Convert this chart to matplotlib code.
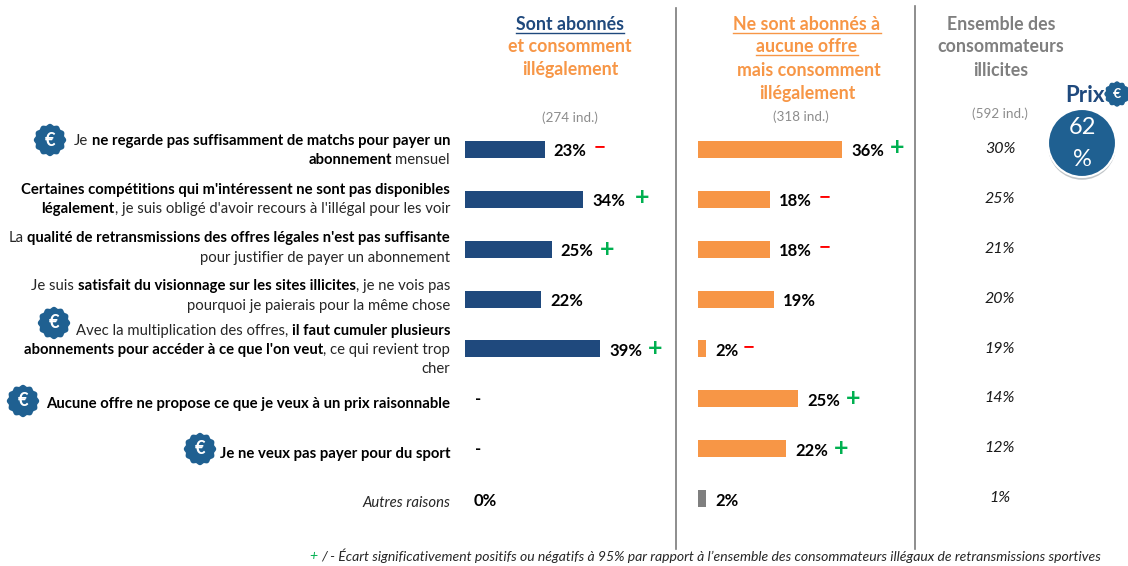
import numpy as np
import matplotlib
matplotlib.use('Agg')
import matplotlib.pyplot as plt
from matplotlib.patches import Circle, Polygon
import matplotlib.patheffects as pe

plt.rcParams['font.family'] = ['Lato', 'DejaVu Sans']

W, H = 1128, 566

# Data
abonnes = [23, 34, 25, 22, 39, None, None, 0]
non_abonnes = [36, 18, 18, 19, 2, 25, 22, 2]
ensemble = [30, 25, 21, 20, 19, 14, 12, 1]
flags_abonnes = ['-', '+', '+', '', '+', '', '', '']
flags_non_abonnes = ['+', '-', '-', '', '-', '+', '+', '']
labels = [
  [[('Je ', 0), ('ne regarde pas suffisamment de matchs pour payer un', 1)],
   [('abonnement', 1), (' mensuel', 0)]],
  [[('Certaines compétitions qui m\'intéressent ne sont pas disponibles', 1)],
   [('légalement', 1), (', je suis obligé d\'avoir recours à l\'illégal pour les voir', 0)]],
  [[('La ', 0), ('qualité de retransmissions des offres légales n\'est pas suffisante', 1)],
   [('pour justifier de payer un abonnement', 0)]],
  [[('Je suis ', 0), ('satisfait du visionnage sur les sites illicites', 1), (', je ne vois pas', 0)],
   [('pourquoi je paierais pour la même chose', 0)]],
  [[('Avec la multiplication des offres, ', 0), ('il faut cumuler plusieurs', 1)],
   [('abonnements pour accéder à ce que l\'on veut', 1), (', ce qui revient trop', 0)],
   [('cher', 0)]],
  [[('Aucune offre ne propose ce que je veux à un prix raisonnable', 1)]],
  [[('Je ne veux pas payer pour du sport', 1)]],
]

BLUE = '#1F497D'
ORANGE = '#F79646'
GREY = '#7F7F7F'
BADGE = '#1F6091'
GREEN = '#00B050'
RED = '#FF0000'
TEXT = '#262626'


def rtext(ax, x, y, segs, size=10.7, bold_size=10.72, style='normal'):
  # mixed bold line, drawn from the right edge to the left
  renderer = ax.figure.canvas.get_renderer()
  for seg in reversed(segs):
    s, bold = seg[0], seg[1]
    color = seg[2] if len(seg) > 2 else (TEXT if not bold else 'black')
    x -= 0 if not s.endswith(' ') else size * 0.32
    t = ax.text(x, y, s.strip(), ha='right', va='center', fontsize=bold_size if bold else size,
                color=color, fontweight='bold' if bold else 'normal', fontstyle=style)
    x -= t.get_window_extent(renderer).width
    x -= 0 if not s.startswith(' ') else size * 0.32


def header(ax, x, y, s, color, underline=False):
  t = ax.text(x, y + 1, s, ha='center', va='center', fontsize=12.8, color=color, fontweight='bold')
  if underline:
    w = t.get_window_extent(ax.figure.canvas.get_renderer()).width
    ax.plot([x - w / 2, x + w / 2], [y + 9, y + 9], color=color, lw=1)


def badge(ax, x, y, r):
  a = np.linspace(0, 2 * np.pi, 145)
  rad = r * (0.95 + 0.05 * np.cos(12 * a))
  ax.add_patch(Polygon(np.c_[x + rad * np.cos(a), y + rad * np.sin(a)], color=BADGE, zorder=4))
  ax.text(x, y, '€', ha='center', va='center', fontsize=r * 0.85, color='white',
          fontweight='bold', zorder=5)


def bars(fig, left, scale, values, flags, colors):
  # one axes per group, scale is pixels per percent
  ax = fig.add_axes([left / W, 1 - 523.5 / H, 50 * scale / W, 399 / H])
  rows = np.arange(len(values))
  ax.barh(rows, [0 if v is None else v for v in values], height=0.34, color=colors)
  ax.set_xlim(0, 50)
  ax.set_ylim(7.5, -0.5)
  ax.axis('off')
  for i, v in enumerate(values):
    if v is None:
      ax.annotate('-', (0, i), xytext=(10, 0), textcoords='offset pixels', va='center',
                  fontsize=12, fontweight='bold', color='black', annotation_clip=False)
      continue
    ax.annotate(f'{v}%', (v, i), xytext=(9, -2), textcoords='offset pixels', va='center',
                fontsize=12, fontweight='bold', color='black', annotation_clip=False)
    if flags[i]:
      gap = 55 if v >= 10 else 43
      if v == 34:
        gap = 59
      up = 2 if flags[i] == '-' or v in (34, 36) else 0
      plus = flags[i] == '+'
      ax.annotate('+' if plus else '−', (v, i), xytext=(gap, up),
                  textcoords='offset pixels', ha='center', va='center',
                  fontsize=18 if plus else 15, fontweight='bold',
                  color=GREEN if plus else RED, annotation_clip=False)


def main():
  fig = plt.figure(figsize=(W / 100, H / 100), dpi=100)
  ax = fig.add_axes([0, 0, 1, 1])
  ax.set_xlim(0, W)
  ax.set_ylim(H, 0)
  ax.axis('off')
  fig.canvas.draw()

  # Column headers
  header(ax, 570, 24, 'Sont abonnés', BLUE, True)
  header(ax, 570, 46, 'et consomment', ORANGE)
  header(ax, 570, 69, 'illégalement', ORANGE)
  header(ax, 807, 24, 'Ne sont abonnés à', ORANGE, True)
  header(ax, 807, 46, 'aucune offre', ORANGE, True)
  header(ax, 809, 69, 'mais consomment', ORANGE)
  header(ax, 807, 93, 'illégalement', ORANGE)
  header(ax, 1001, 24, 'Ensemble des', GREY)
  header(ax, 1001, 46, 'consommateurs', GREY)
  header(ax, 1001, 69, 'illicites', GREY)
  for x, y, s in [(570, 118, '(274 ind.)'), (801, 117, '(318 ind.)'), (1000, 114, '(592 ind.)')]:
    ax.text(x, y, s, ha='center', va='center', fontsize=9.7, color='#8C8C8C')

  # Separators
  ax.plot([676, 676], [8, 549], color='#7A7A7A', lw=1.2)
  ax.plot([915, 915], [6, 549], color='#7A7A7A', lw=1.2)

  # Row labels
  line_y = [[141, 160], [190, 209], [238, 258], [286, 306], [331, 350, 369], [404], [454]]
  for lines, ys in zip(labels, line_y):
    for segs, y in zip(lines, ys):
      rtext(ax, 450, y, segs)
  rtext(ax, 450, 503, [('Autres raisons', 0)], style='italic')

  # Totals
  for i, v in enumerate(ensemble):
    ax.text(1000, 149 + i * 49.9, f'{v}%', ha='center', va='center', fontsize=11.5,
            fontstyle='italic', color='#1A1A1A')

  bars(fig, 465, 3.47, abonnes, flags_abonnes, BLUE)
  bars(fig, 698, 4.0, non_abonnes, flags_non_abonnes, [ORANGE] * 7 + [GREY])

  # Price badges
  for x, y in [(50, 140), (54, 323), (23, 401), (200, 449)]:
    badge(ax, x, y, 15.5)
  ax.text(1085, 95, 'Prix', ha='center', va='center', fontsize=16, fontweight='bold', color=BLUE)
  badge(ax, 1117, 94, 12)
  ax.add_patch(Circle((1082, 143), 34, facecolor=BADGE, edgecolor='white', lw=1.5, zorder=3,
                      path_effects=[pe.SimplePatchShadow(offset=(0, -2), alpha=0.25), pe.Normal()]))
  ax.text(1082, 128, '62', ha='center', va='center', fontsize=17, color='white', zorder=5)
  ax.text(1082, 159, '%', ha='center', va='center', fontsize=17, color='white', zorder=5)

  # Footnote
  rtext(ax, 1101, 556, [('+', 0, GREEN),
                        (' / - Écart significativement positifs ou négatifs à 95% par rapport à '
                         'l’ensemble des consommateurs illégaux de retransmissions sportives', 0)],
        size=10.1, style='italic')

  fig.savefig('out.png', dpi=100)
  plt.close()


if __name__ == '__main__':
  main()
